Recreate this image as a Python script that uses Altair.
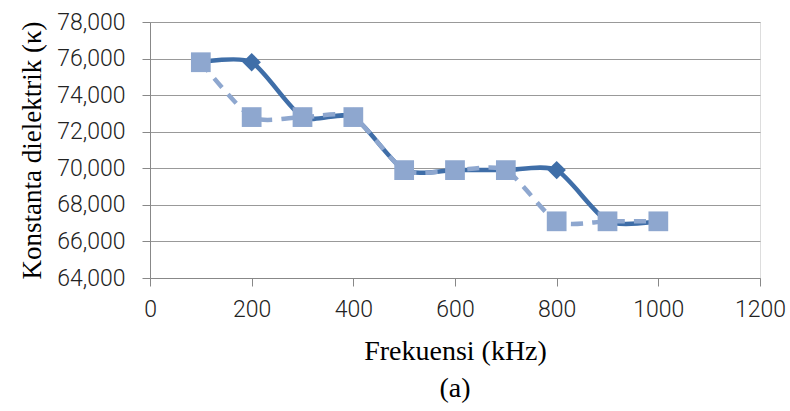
import altair as alt
import pandas as pd

freq = [100, 200, 300, 400, 500, 600, 700, 800, 900, 1000]
series_a = [75.8, 75.8, 72.8, 72.8, 69.9, 69.9, 69.9, 69.9, 67.1, 67.1]
series_b = [75.8, 72.8, 72.8, 72.8, 69.9, 69.9, 69.9, 67.1, 67.1, 67.1]

df_a = pd.DataFrame({"f": freq, "k": series_a})
df_b = pd.DataFrame({"f": freq, "k": series_b})

dark = "#3F6EA8"
light = "#8EA7CF"
lab_font = "Roboto, sans-serif"
serif = "Liberation Serif, Times New Roman, serif"

x = alt.X("f:Q", scale=alt.Scale(domain=[0, 1200], nice=False),
          axis=alt.Axis(values=[0, 200, 400, 600, 800, 1000, 1200], grid=False, format="d",
                        title="Frekuensi (kHz)", titleFont=serif, titleFontSize=28,
                        titleFontWeight="normal", titleColor="#000", titlePadding=16,
                        labelFont=lab_font, labelFontSize=23, labelFontWeight=300, labelColor="#222",
                        labelPadding=12, tickSize=8, tickColor="#888", domainColor="#888",
                        labelFlush=False))
y = alt.Y("k:Q", scale=alt.Scale(domain=[64, 78], nice=False),
          axis=alt.Axis(values=[64, 66, 68, 70, 72, 74, 76, 78],
                        labelExpr="replace(format(datum.value, '.3f'), '.', ',')",
                        title="Konstanta dielektrik (κ)", titleFont=serif, titleFontSize=27,
                        titleFontWeight="normal", titleColor="#000", titlePadding=10,
                        labelFont=lab_font, labelFontSize=23, labelFontWeight=300, labelColor="#222",
                        labelPadding=17, tickSize=8, tickColor="#888", domainColor="#888",
                        gridColor="#999", gridWidth=1.2))

line_a = alt.Chart(df_a).mark_line(interpolate="cardinal", tension=0.3, color=dark, strokeWidth=4.5).encode(x=x, y=y)
pts_a = alt.Chart(df_a).mark_point(shape="diamond", filled=True, color=dark, size=340, opacity=1).encode(x=x, y=y)
line_b = alt.Chart(df_b).mark_line(interpolate="cardinal", tension=0.3, color=light, strokeWidth=4.5,
                                   strokeDash=[12, 9]).encode(x=x, y=y)
pts_b = alt.Chart(df_b).mark_point(shape="square", filled=True, color=light, size=390, opacity=1).encode(x=x, y=y)

chart = alt.layer(line_a, pts_a, line_b, pts_b).properties(
    width=610, height=256,
    title=alt.TitleParams("(a)", orient="bottom", font=serif, fontSize=28,
                          fontWeight="normal", color="#000", offset=10),
    autosize=alt.AutoSizeParams(type="none"),
    padding={"left": 150, "top": 22, "right": 30, "bottom": 133},
).configure_view(stroke=None).configure(background="white")

chart.save("out.html", embed_options={"renderer": "svg", "actions": False})
